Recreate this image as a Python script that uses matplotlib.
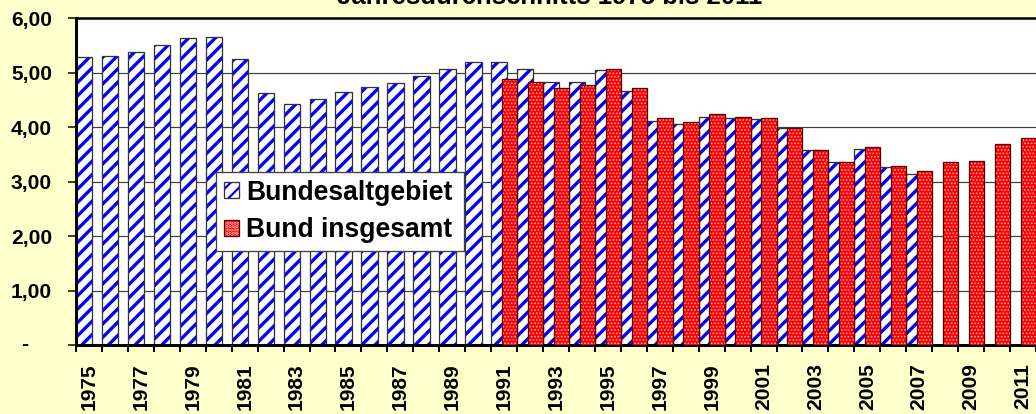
import matplotlib
matplotlib.use('Agg')
import matplotlib.pyplot as plt
import matplotlib.transforms as mtransforms
from matplotlib.legend_handler import HandlerTuple
from matplotlib.patches import Patch

# Werte
jahre = list(range(1975, 2012))
bundesaltgebiet = [5.28, 5.31, 5.38, 5.51, 5.64, 5.65, 5.25, 4.63, 4.43, 4.52,
                   4.65, 4.74, 4.81, 4.94, 5.06, 5.19,
                   5.20, 5.07, 4.82, 4.82, 5.05, 4.66, 4.11, 4.05, 4.19, 4.16,
                   4.15, 3.98, 3.57, 3.36, 3.60, 3.27, 3.14]
jahre_bund = list(range(1991, 2012))
bund_insgesamt = [4.88, 4.82, 4.71, 4.77, 5.06, 4.71, 4.16, 4.10, 4.24, 4.19,
                  4.17, 3.98, 3.58, 3.36, 3.64, 3.29, 3.20, 3.36, 3.38, 3.68, 3.80]
y_ticks = [0, 1, 2, 3, 4, 5, 6]
titel = 'Jahresdurchschnitts 1975 bis 2011'

DPI = 160
PX = 72 / DPI  # 1 Pixel in Punkt
W, H = 1036, 414

HATCH_BLAU = '////'
HATCH_ROT = '........'

plt.rcParams['font.family'] = ['Liberation Sans', 'DejaVu Sans']
plt.rcParams['font.weight'] = 'bold'

fig = plt.figure(figsize=(W / DPI, H / DPI), dpi=DPI, facecolor='#FFFFCC')
ax = fig.add_axes([76 / W, (H - 345) / H, (W - 76) / W, (345 - 18) / H])
ax.set_facecolor('white')

x_blau = [jahre.index(j) - 0.5 for j in jahre[:len(bundesaltgebiet)]]
x_rot = [jahre.index(j) - 0.09 for j in jahre_bund]

with plt.rc_context({'hatch.linewidth': 3.3 * PX}):
    ax.bar(x_blau, bundesaltgebiet, width=0.63, align='edge',
           facecolor='white', edgecolor='#0000FF', hatch=HATCH_BLAU, lw=0, zorder=2)
ax.bar(x_blau, bundesaltgebiet, width=0.63, align='edge', fill=False,
       edgecolor='#333333', lw=1.3 * PX, zorder=2.1)

with plt.rc_context({'hatch.linewidth': 1.0 * PX}):
    ax.bar(x_rot, bund_insgesamt, width=0.59, align='edge',
           facecolor='#FF0000', edgecolor='#FFB8B8', hatch=HATCH_ROT, lw=0, zorder=3)
ax.bar(x_rot, bund_insgesamt, width=0.59, align='edge', fill=False,
       edgecolor='#500000', lw=1.3 * PX, zorder=3.1)

ax.set_xlim(-0.5, len(jahre) - 0.5)
ax.set_ylim(0, 6)

ax.set_yticks(y_ticks)
ax.set_yticklabels([''] + ['%d,00' % v for v in y_ticks[1:]], fontsize=21 * PX,
                   fontweight='bold')
trans = mtransforms.blended_transform_factory(ax.transAxes, ax.transData)
ax.text(-51 / 960, 0, '-', transform=trans, ha='center', va='center',
        fontsize=21 * PX, fontweight='bold')
ax.tick_params(axis='y', length=8 * PX, width=1.5 * PX, pad=16 * PX, color='black')

ax.set_xticks(range(0, len(jahre), 2))
ax.set_xticklabels([str(j) for j in jahre[::2]], rotation=90, fontsize=21 * PX,
                   fontweight='bold')
ax.set_xticks([i - 0.5 for i in range(len(jahre) + 1)], minor=True)
ax.tick_params(axis='x', which='major', length=0, pad=18 * PX)
ax.tick_params(axis='x', which='minor', length=7 * PX, width=2 * PX, color='black')

ax.yaxis.grid(True, color='#404040', lw=1.2 * PX)
ax.set_axisbelow(True)

for s in ['left', 'bottom']:
    ax.spines[s].set_linewidth(3 * PX)
ax.spines['top'].set_linewidth(2.5 * PX)
ax.spines['right'].set_visible(False)

# Legende
with plt.rc_context({'hatch.linewidth': 3.3 * PX}):
    p_blau = Patch(facecolor='white', edgecolor='#0000FF', hatch=HATCH_BLAU, lw=0)
with plt.rc_context({'hatch.linewidth': 1.0 * PX}):
    p_rot = Patch(facecolor='#FF0000', edgecolor='#FFB8B8', hatch=HATCH_ROT, lw=0)
h_blau = (p_blau, Patch(fill=False, edgecolor='#333333', lw=1.3 * PX))
h_rot = (p_rot, Patch(fill=False, edgecolor='#500000', lw=1.3 * PX))
leg = ax.legend([h_blau, h_rot], ['Bundesaltgebiet', 'Bund insgesamt'],
                handler_map={tuple: HandlerTuple(ndivide=1, pad=0)},
                bbox_to_anchor=(140 / 960, 93 / 327, 248 / 960, 81 / 327),
                loc='center', mode='expand',
                prop={'weight': 'bold', 'size': 26.5 * PX},
                handlelength=0.57, handleheight=0.57, handletextpad=0.27,
                borderpad=0.3, labelspacing=0.45, borderaxespad=0,
                fancybox=False, framealpha=1, edgecolor='#404040')
leg.get_frame().set_linewidth(1.3 * PX)
leg.set_zorder(5)

# Titel ist im Original oben abgeschnitten
fig.text(550 / W, 1 - 4.5 / H, titel, ha='center', va='baseline',
         fontsize=25.7 * PX, fontweight='bold')

fig.savefig('out.png', dpi=DPI, facecolor=fig.get_facecolor())
